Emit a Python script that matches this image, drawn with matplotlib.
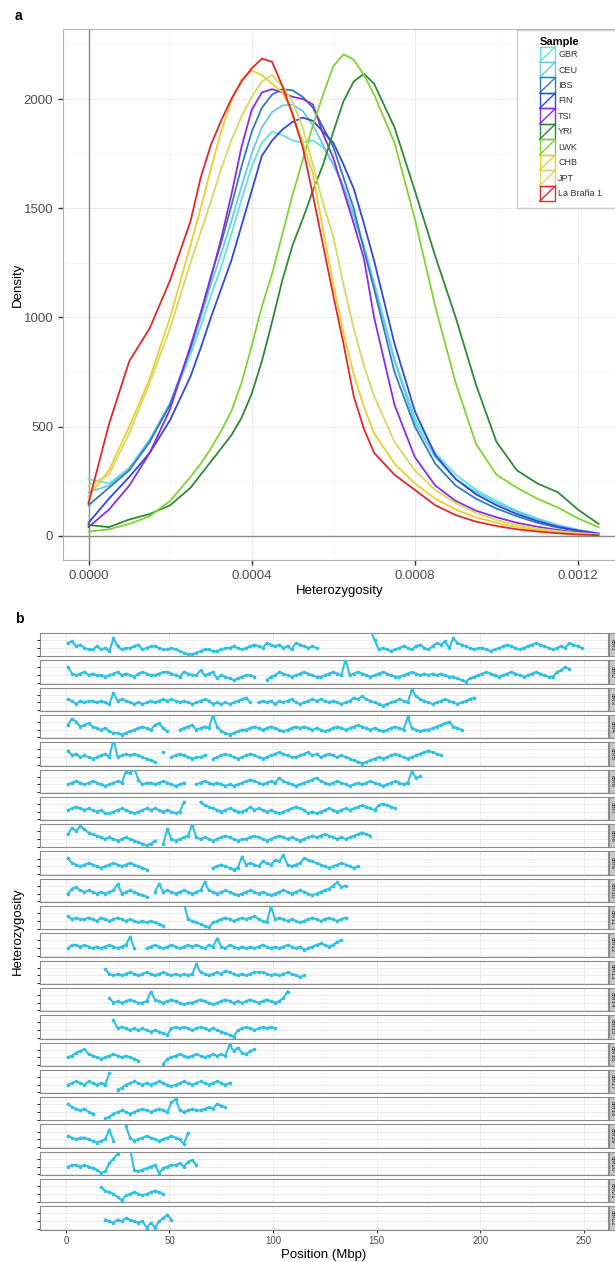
import matplotlib.pyplot as plt
import numpy as np
from matplotlib.lines import Line2D
from matplotlib.patches import Rectangle
from matplotlib.legend_handler import HandlerBase

plt.rcParams['font.family'] = ['Liberation Sans', 'DejaVu Sans']

# ---- panel a: density of heterozygosity per sample ----
# heterozygosity grid, in units of 1e-4
het_grid = [0, 0.5, 1, 1.5, 2, 2.5, 2.75, 3, 3.25, 3.5, 3.75, 4, 4.25, 4.5, 4.75, 5,
            5.25, 5.5, 5.75, 6, 6.25, 6.5, 6.75, 7, 7.5, 8, 8.5, 9, 9.5, 10, 10.5,
            11, 11.5, 12, 12.5]

samples = ['GBR', 'CEU', 'IBS', 'FIN', 'TSI', 'YRI', 'LWK', 'CHB', 'JPT', 'La Braña 1']
sample_colors = ['#5ee3e0', '#6cc6ea', '#2f7db5', '#3049dc', '#8b2de0',
                 '#2c8a38', '#82d330', '#eccf2c', '#d6d862', '#e0282b']

dens_gbr = [260, 240, 310, 440, 600, 830, 960, 1100, 1230, 1380, 1540, 1690, 1800, 1850, 1835, 1810,
            1800, 1810, 1780, 1700, 1600, 1470, 1330, 1160, 810, 540, 380, 280, 210, 160, 115,
            80, 50, 28, 12]
dens_ceu = [200, 230, 310, 440, 610, 850, 1000, 1150, 1290, 1440, 1600, 1750, 1870, 1940, 1970, 1975,
            1945, 1880, 1790, 1700, 1600, 1460, 1320, 1150, 800, 520, 360, 260, 200, 150, 110,
            75, 48, 27, 12]
dens_ibs = [140, 220, 300, 430, 600, 860, 1020, 1190, 1340, 1510, 1690, 1850, 1960, 2020, 2045, 2040,
            2010, 1960, 1870, 1780, 1640, 1500, 1310, 1130, 750, 500, 330, 230, 170, 125, 90,
            60, 38, 22, 10]
dens_fin = [60, 170, 270, 380, 530, 730, 860, 1000, 1130, 1260, 1420, 1580, 1740, 1810, 1860, 1895,
            1915, 1900, 1850, 1800, 1700, 1590, 1430, 1260, 880, 570, 370, 260, 190, 140, 100,
            68, 42, 24, 10]
dens_tsi = [40, 120, 230, 380, 580, 870, 1020, 1180, 1360, 1560, 1780, 1950, 2030, 2045, 2030, 2010,
            2000, 1975, 1840, 1730, 1580, 1430, 1270, 1000, 600, 360, 230, 160, 115, 85, 60,
            42, 27, 15, 7]
dens_yri = [50, 40, 75, 100, 140, 220, 280, 340, 400, 460, 540, 650, 800, 980, 1170, 1330,
            1450, 1580, 1700, 1850, 1990, 2080, 2115, 2070, 1870, 1580, 1280, 1000, 690, 430, 300,
            240, 200, 120, 55]
dens_lwk = [20, 30, 55, 90, 160, 270, 330, 400, 480, 570, 700, 870, 1050, 1200, 1380, 1560,
            1720, 1880, 2020, 2150, 2205, 2180, 2110, 2020, 1800, 1450, 1050, 700, 420, 280, 220,
            170, 130, 80, 40]
dens_chb = [180, 300, 500, 720, 1000, 1330, 1500, 1680, 1850, 1990, 2090, 2130, 2110, 2070, 2030, 1940,
            1800, 1660, 1400, 1150, 930, 740, 590, 470, 330, 240, 170, 120, 85, 60, 40,
            28, 18, 10, 5]
dens_jpt = [230, 280, 470, 700, 950, 1250, 1390, 1530, 1680, 1810, 1920, 2010, 2080, 2110, 2060, 1990,
            1870, 1700, 1520, 1370, 1150, 950, 780, 640, 430, 300, 210, 150, 105, 72, 50,
            34, 22, 13, 7]
dens_labrana = [150, 510, 800, 950, 1170, 1440, 1640, 1790, 1900, 2000, 2080, 2140, 2185, 2170, 2060, 1930,
                1780, 1560, 1330, 1100, 880, 640, 490, 380, 280, 210, 140, 95, 65, 45, 30,
                20, 12, 6, 3]
densities = [dens_gbr, dens_ceu, dens_ibs, dens_fin, dens_tsi,
             dens_yri, dens_lwk, dens_chb, dens_jpt, dens_labrana]

# ---- panel b: heterozygosity along each chromosome ----
# one character per 2 Mbp bin from position 0; ' ' = no data; hex digit = level
chroms = ['chr%d' % i for i in range(1, 23)]
bin_mbp = 2
het_bins = [
    "7856433534" "2a53445634" "5543343210" "0123322344" "5434565476" "5645376545" "4" + " " * 12 +
    "f934323454" "3564357684" "a765434432" "3456543456" "7654345476" "54",
    "9545645443" "4564543565" "4456654365" "4474562432" "123443" + " " * 2 +
    "1346543456" "543345654e" "4565434565" "4334565454" "5454332102" "3456543456" "5434565433" "6798",
    "6535455454" "3a56543434" "5456565454" "3456534343" "45674" + " " +
    "4545354564" "3456565454" "3457686543" "2345654c86" "5434565434" "567",
    "7b96786545" "3221234565" "47853" + " " * 2 +
    "45674565d6" "3212344565" "4565434565" "6545434565" "4567654543" "45654c5434" "456789654",
    "8564543456" "4f45656543" "21" + " 7 " + "456543445" + " " +
    "3456543456" "5434567654" "4567564565" "4543210123" "4345654345" "678765",
    "4565456543" "4565cbe745" "545654345" + " " * 2 +
    "4565454343" "4567654565" "8654345678" "6545654345" "4565434565" "45c89",
    "5676565453" "3456543456" "56545434a" + " " * 3 +
    "a876545654" "4575654543" "4567653434" "5654565678" "76589876",
    "7b9ca87654" "5434543210" "13" + " " +
    "1a43456d54" "5434565434" "4565434565" "4543456567" "6545456787" "6",
    "9654565434" "5654565432" + " " * 15 +
    "3454323a56" "5476587b54" "5698765434" "565434",
    "4786565454" "56a4565432" + " " +
    "5a56545654" "56b6545654" "3456545434" "5654565434" "5679b89",
    "7565565465" "4565454343" "4321" + " f  " +
    "f543210345" "6545656754" "3d56545434" "5654565456",
    "4665654545" "65456b4" + " " * 2 +
    "4565456545" "6565465a54" "6545454565" "4545654534" "56765689",
    " " * 9 + "8545456545" "6545654545" "45b6545657" "6545456665" "454565434",
    " " * 10 + "7454565445" "b654565434" "4565434565" "4545654565" "457b",
    " " * 11 + "a565454543" "4321565654" "5654543210" "4565456565",
    "4578965434" "56545432" + " " * 5 + "0345654565" "456565c8a7" "689",
    "4565465454" "b 12456545" "4565434565" "4565456545",
    "9765643" + " " * 2 + "0134543456" "545654ac54" "5655676987",
    "6545543234a3" + " " * 2 + "c534565434565418",
    "4554543201" "69c" + " " * 2 + "f2123450345564785",
    " " * 8 + "8654203454345654",
    " " * 9 + "54354654340304685",
]

W, H = 615, 1262


def box(l, t, r, b):
    # pixel box (from top-left) -> figure fraction
    return [l / W, 1 - b / H, (r - l) / W, (b - t) / H]


class KeyHandler(HandlerBase):
    def create_artists(self, legend, orig_handle, xdescent, ydescent, width, height, fontsize, trans):
        c = orig_handle.get_color()
        x0, y0 = -xdescent, -ydescent
        rect = Rectangle((x0, y0), width, height, fill=False, edgecolor=c, lw=1, transform=trans)
        diag = Line2D([x0, x0 + width], [y0, y0 + height], color=c, lw=1, transform=trans)
        return [rect, diag]


fig = plt.figure(figsize=(W / 100, H / 100), dpi=100)
tick_col = '#4d4d4d'

# panel a
axa = fig.add_axes(box(63, 29, 624, 560))
x = np.array(het_grid) * 1e-4
handles = []
for name, col, dens in zip(samples, sample_colors, densities):
    h, = axa.plot(x, dens, color=col, lw=1.3, label=name, zorder=3)
    handles.append(h)
axa.axvline(0, color='#8c8c8c', lw=1, zorder=2)
axa.axhline(0, color='#8c8c8c', lw=1, zorder=2)
axa.set_xlim(-0.0000625, 0.0013125)
axa.set_ylim(-110.5, 2320.5)
axa.set_xticks([0, 0.0004, 0.0008, 0.0012])
axa.set_xticklabels(['0.0000', '0.0004', '0.0008', '0.0012'])
axa.set_xticks([0.0002, 0.0006, 0.0010], minor=True)
axa.set_yticks([0, 500, 1000, 1500, 2000])
axa.set_yticks([250, 750, 1250, 1750, 2250], minor=True)
axa.grid(which='major', color='#ebebeb', lw=0.8)
axa.grid(which='minor', color='#f6f6f6', lw=0.6)
axa.set_axisbelow(True)
axa.tick_params(which='minor', length=0)
axa.tick_params(which='major', length=3.5, width=1, color='#333333',
                labelcolor=tick_col, labelsize=9.5)
for sp in axa.spines.values():
    sp.set_color('#b3b3b3')

fig.patches.append(Rectangle((517 / W, 1 - 208 / H), 200 / W, 178 / H, transform=fig.transFigure,
                             facecolor='white', edgecolor='#cccccc', lw=1, zorder=1))
leg = fig.legend(handles, samples, loc='upper left', bbox_to_anchor=(535 / W, 1 - 32 / H),
                 frameon=False, borderpad=0, labelspacing=0, handlelength=1.77,
                 handleheight=2.26, handletextpad=0.3, fontsize=6.5, title='Sample',
                 title_fontproperties={'weight': 'bold', 'size': 8}, alignment='left',
                 handler_map={Line2D: KeyHandler()})
for t in leg.get_texts():
    t.set_color('#333333')

fig.text(15 / W, 1 - 16 / H, 'a', fontsize=10, fontweight='bold', va='center')
fig.text(18 / W, 1 - 285 / H, 'Density', fontsize=9.5, rotation=90, va='center', ha='center')
fig.text(340 / W, 1 - 591 / H, 'Heterozygosity', fontsize=9.5, va='center', ha='center')

# panel b
pitch = 27.3
pt_col = '#2fc0e4'
for i, (name, s) in enumerate(zip(chroms, het_bins)):
    top = 633 + i * pitch
    ax = fig.add_axes(box(40, top, 608, top + 23.3))
    pos = np.arange(len(s)) * bin_mbp + 1
    val = np.array([np.nan if c == ' ' else 2e-4 + int(c, 16) * 1.25e-4 for c in s])
    ax.plot(pos, val, color=pt_col, lw=1.5, marker='o', ms=2.6, mec='none', zorder=3)
    ax.set_xlim(-12.46, 261.66)
    ax.set_ylim(0.000045, 0.00186)
    ax.set_xticks([0, 50, 100, 150, 200, 250])
    ax.set_xticks([25, 75, 125, 175, 225], minor=True)
    ax.set_yticks([0.0001, 0.0007, 0.0013])
    ax.set_yticks([0.0004, 0.0010, 0.0016], minor=True)
    ax.grid(which='major', color='#ebebeb', lw=0.7)
    ax.grid(which='minor', color='#f6f6f6', lw=0.5)
    ax.set_axisbelow(True)
    ax.tick_params(which='minor', length=0)
    ax.tick_params(axis='y', which='major', length=2.5, width=0.8, color='#333333', labelleft=False)
    last = i == len(chroms) - 1
    ax.tick_params(axis='x', which='major', length=2.5 if last else 0, width=0.8, color='#333333',
                   labelbottom=last, labelsize=7, labelcolor=tick_col, pad=2)
    for sp in ax.spines.values():
        sp.set_color('#8c8c8c')
    sax = fig.add_axes(box(609, top, 630, top + 23.3))
    sax.set_facecolor('#c9c9c9')
    sax.set_xticks([])
    sax.set_yticks([])
    for sp in sax.spines.values():
        sp.set_color('#8c8c8c')
    sax.text(3 / 21, 0.5, name, rotation=270, ha='center', va='center', fontsize=4.5,
             color='#1a1a1a', transform=sax.transAxes)

fig.text(15 / W, 1 - 619 / H, 'b', fontsize=10, fontweight='bold', va='center')
fig.text(18 / W, 1 - 931 / H, 'Heterozygosity', fontsize=9.5, rotation=90, va='center', ha='center')
fig.text(324 / W, 1 - 1255 / H, 'Position (Mbp)', fontsize=9.5, va='center', ha='center')

fig.savefig('out.png', dpi=100)
